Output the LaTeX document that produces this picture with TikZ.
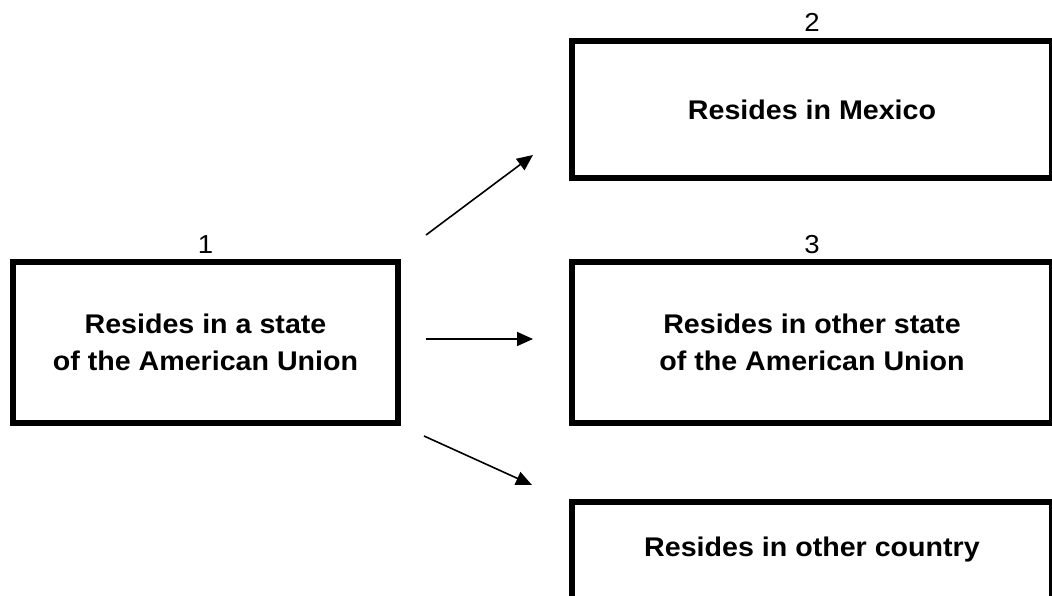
\documentclass[tikz,border=0pt]{standalone}
\usepackage{fontspec}
\setmainfont{Liberation Sans}[FakeStretch=1.06]
\usepackage{tikz}
\usetikzlibrary{arrows.meta, positioning, calc}

\begin{document}
\begin{tikzpicture}[x=1pt, y=-1pt,
    box/.style={draw, line width=6pt, inner sep=0pt, align=center,
        font=\fontsize{27}{37}\selectfont\bfseries},
    numlabel/.style={inner sep=0pt, font=\fontsize{26}{30}\selectfont},
    arr/.style={-{Triangle[length=16pt, width=14pt]}, line width=1.6pt}]
\useasboundingbox (0,0) rectangle (1052,596);

% Origin box (left)
\node[box, minimum width=385pt, minimum height=161pt] (origin) at (205.5,342.5)
    {Resides in a state\\of the American Union};
\node[numlabel] (n1) at (205.5,245) {1};

% Destination boxes (right)
\node[box, minimum width=480pt, minimum height=137pt] (mexico) at (812,109.5)
    {Resides in Mexico};
\node[numlabel] (n2) at (812,22) {2};

\node[box, minimum width=480pt, minimum height=161pt] (otherstate) at (812,342.5)
    {Resides in other state\\of the American Union};
\node[numlabel] (n3) at (812,245) {3};

\node[box, minimum width=480pt, minimum height=99pt, text depth=10pt] (othercountry) at (812,551.5)
    {Resides in other country};

% Arrows
\coordinate (s1) at ($(origin.north east)+(25,-24)$);
\coordinate (e1) at ($(mexico.south west)+(-36,-26)$);
\coordinate (s2) at ($(origin.east)+(25,-3.5)$);
\coordinate (e2) at ($(otherstate.west)+(-36,-3.5)$);
\coordinate (s3) at ($(origin.south east)+(23,10)$);
\coordinate (e3) at ($(othercountry.north west)+(-37,-14)$);
\draw[arr] (s1) -- (e1);
\draw[arr] (s2) -- (e2);
\draw[arr] (s3) -- (e3);
\end{tikzpicture}
\end{document}
